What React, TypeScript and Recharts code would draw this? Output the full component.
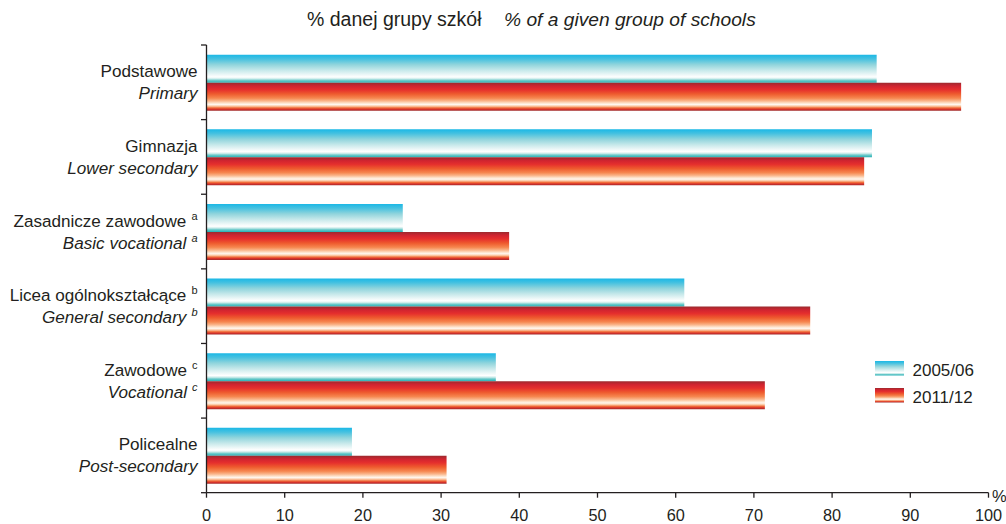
import React from 'react';
import { BarChart, Bar, XAxis, YAxis } from 'recharts';

const categoriesPl = ['Podstawowe', 'Gimnazja', 'Zasadnicze zawodowe', 'Licea ogólnokształcące', 'Zawodowe', 'Policealne'];
const categoriesEn = ['Primary', 'Lower secondary', 'Basic vocational', 'General secondary', 'Vocational', 'Post-secondary'];
const footnotes = ['', '', 'a', 'b', 'c', ''];
const values2005 = [85.7, 85.1, 25.1, 61.1, 37.0, 18.6];
const values2011 = [96.5, 84.1, 38.7, 77.2, 71.4, 30.7];
const seriesNames = ['2005/06', '2011/12'];
const xTicks = [0, 10, 20, 30, 40, 50, 60, 70, 80, 90, 100];

const data = categoriesPl.map((c, i) => ({
  name: c,
  en: categoriesEn[i],
  sup: footnotes[i],
  v2005: values2005[i],
  v2011: values2011[i],
}));

const blueStops: [number, string][] = [
  [0, '#1ab8e6'],
  [0.15, '#45c1e0'],
  [0.35, '#8fd4dc'],
  [0.55, '#c5e8ea'],
  [0.72, '#eef8f8'],
  [0.8, '#ffffff'],
  [0.86, '#cdeceb'],
  [0.92, '#6ccaca'],
  [1, '#25b0b5'],
];
const redStops: [number, string][] = [
  [0, '#9b2a2e'],
  [0.12, '#d02430'],
  [0.25, '#e52f2d'],
  [0.4, '#ee5a2e'],
  [0.55, '#f6874f'],
  [0.65, '#fab58a'],
  [0.73, '#fde3cc'],
  [0.78, '#fff6ee'],
  [0.84, '#fbc6a0'],
  [0.9, '#f16b38'],
  [0.95, '#d8322b'],
  [1, '#9e2a2a'],
];

const W = 1006;
const H = 524;
const M = { top: 45, right: 17.5, bottom: 1.3, left: 6.5 };
const Y_W = 200;
const X_H = 30;
const TXT = '#231f20';
const FONT = '"Liberation Sans", Arial, sans-serif';
const CAT_FS = 17.1;
const plotH = H - M.top - M.bottom - X_H;
const band = plotH / categoriesPl.length;

const Grad = ({ id, stops }: { id: string; stops: [number, string][] }) => (
  <linearGradient id={id} x1="0" y1="0" x2="0" y2="1">
    {stops.map(([o, c], i) => (
      <stop key={i} offset={o} stopColor={c} />
    ))}
  </linearGradient>
);

const CatTick = (props: any) => {
  const { x, y, payload, index } = props;
  const d = data[index] || data.find((r) => r.name === payload.value);
  const axisX = x + 9;
  return (
    <g>
      <line x1={axisX - 5.5} x2={axisX} y1={y - band / 2} y2={y - band / 2} stroke={TXT} strokeWidth={1.3} />
      {index === categoriesPl.length - 1 && (
        <line x1={axisX - 5.5} x2={axisX} y1={y + band / 2} y2={y + band / 2} stroke={TXT} strokeWidth={1.3} />
      )}
      <text x={x} y={y - 5} textAnchor="end" fontSize={CAT_FS} fill={TXT} fontFamily={FONT}>
        <tspan>{d.name}</tspan>
        {d.sup && (
          <tspan dx={5} dy={-7} fontSize={11}>
            {d.sup}
          </tspan>
        )}
      </text>
      <text x={x} y={y + 17} textAnchor="end" fontSize={CAT_FS} fill={TXT} fontFamily={FONT} fontStyle="italic">
        <tspan>{d.en}</tspan>
        {d.sup && (
          <tspan dx={5} dy={-7} fontSize={11}>
            {d.sup}
          </tspan>
        )}
      </text>
    </g>
  );
};

export default function App() {
  return (
    <div style={{ position: 'absolute', left: 0, top: 0, width: W, height: H, background: '#fff' }}>
      <BarChart
        width={W}
        height={H}
        data={data}
        layout="vertical"
        margin={M}
        barCategoryGap="13%"
        barGap={0}
      >
        <defs>
          <Grad id="gBlue" stops={blueStops} />
          <Grad id="gRed" stops={redStops} />
        </defs>
        <XAxis
          type="number"
          domain={[0, 100]}
          ticks={xTicks}
          interval={0}
          height={X_H}
          tickSize={5}
          tickMargin={12}
          stroke={TXT}
          strokeWidth={1.3}
          tick={{ fill: TXT, fontSize: 16.3, fontFamily: FONT }}
        />
        <YAxis
          type="category"
          dataKey="name"
          width={Y_W}
          tickLine={false}
          tickSize={6}
          tickMargin={3}
          interval={0}
          stroke={TXT}
          strokeWidth={1.3}
          tick={<CatTick />}
        />
        <Bar dataKey="v2005" name={seriesNames[0]} fill="url(#gBlue)" isAnimationActive={false} />
        <Bar dataKey="v2011" name={seriesNames[1]} fill="url(#gRed)" isAnimationActive={false} />
      </BarChart>
      <svg width={W} height={H} style={{ position: 'absolute', left: 0, top: 0, pointerEvents: 'none' }}>
        <defs>
          <Grad id="lBlue" stops={blueStops} />
          <Grad id="lRed" stops={redStops} />
        </defs>
        <text x={307} y={26} fontSize={19.5} fill={TXT} fontFamily={FONT}>
          % danej grupy szkół
        </text>
        <text x={504} y={26} fontSize={19.2} fill={TXT} fontFamily={FONT} fontStyle="italic">
          % of a given group of schools
        </text>
        <text x={992} y={501.5} fontSize={16.5} fill={TXT} fontFamily={FONT}>
          %
        </text>
        <rect x={875} y={361} width={29} height={14.5} fill="url(#lBlue)" />
        <text x={912.5} y={375.5} fontSize={17} fill={TXT} fontFamily={FONT}>
          {seriesNames[0]}
        </text>
        <rect x={875} y={388} width={29} height={14.5} fill="url(#lRed)" />
        <text x={912.5} y={402.5} fontSize={17} fill={TXT} fontFamily={FONT}>
          {seriesNames[1]}
        </text>
      </svg>
    </div>
  );
}
